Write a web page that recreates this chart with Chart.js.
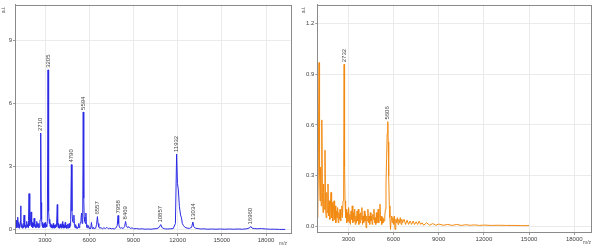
<!DOCTYPE html>
<html>
<head>
<meta charset="utf-8">
<script src="https://cdn.jsdelivr.net/npm/chart.js@4.4.1/dist/chart.umd.min.js"></script>
<style>
    html, body { margin: 0; padding: 0; background: #fff; }
    .panel { position: absolute; top: 0; width: 300px; height: 247px; }
    #panel-left { left: 0; }
    #panel-right { left: 300px; }
</style>
</head>
<body>
<div class="panel" id="panel-left"><canvas id="chart-left"></canvas></div>
<div class="panel" id="panel-right"><canvas id="chart-right"></canvas></div>
<script>
// --- DATA ---

// Spectrum 1 (blue): m/z and intensity (a.i.)
const blueMz = [
    1000, 1030, 1060, 1090, 1120, 1150, 1180, 1210, 1240, 1270,
    1300, 1330, 1350, 1370, 1400, 1430, 1460, 1490, 1520, 1550,
    1580, 1610, 1640, 1670, 1700, 1730, 1760, 1790, 1820, 1850,
    1880, 1917, 1950, 1980, 2010, 2050, 2080, 2110, 2140, 2170,
    2200, 2230, 2260, 2290, 2320, 2350, 2380, 2410, 2440, 2470,
    2500, 2530, 2560, 2590, 2620, 2650, 2680, 2710, 2740, 2770,
    2800, 2830, 2860, 2890, 2920, 2950, 2980, 3010, 3040, 3070,
    3100, 3130, 3160, 3205, 3230, 3260, 3290, 3320, 3350, 3380,
    3410, 3440, 3470, 3500, 3530, 3560, 3590, 3620, 3650, 3680,
    3710, 3740, 3780, 3833, 3860, 3890, 3920, 3950, 3980, 4010,
    4040, 4070, 4100, 4130, 4160, 4190, 4220, 4250, 4280, 4310,
    4340, 4370, 4400, 4430, 4460, 4490, 4520, 4550, 4580, 4610,
    4640, 4670, 4700, 4740, 4790, 4830, 4870, 4910, 4960, 5000,
    5040, 5080, 5120, 5160, 5200, 5240, 5280, 5320, 5360, 5400,
    5440, 5480, 5520, 5560, 5594, 5630, 5660, 5700, 5740, 5775,
    5810, 5850, 5900, 5950, 6000, 6050, 6100, 6150, 6200, 6250,
    6300, 6350, 6400, 6450, 6500, 6557, 6600, 6650, 6700, 6800,
    6900, 7000, 7100, 7200, 7300, 7400, 7500, 7600, 7700, 7800,
    7900, 7958, 8000, 8050, 8100, 8200, 8300, 8400, 8469, 8520,
    8600, 8700, 8800, 8900, 9000, 9200, 9400, 9600, 9800, 10000,
    10200, 10400, 10600, 10750, 10857, 10950, 11100, 11300, 11500, 11700,
    11850, 11932, 11990, 12050, 12120, 12200, 12260, 12320, 12400, 12500,
    12650, 12800, 12950, 13034, 13100, 13200, 13400, 13600, 13800, 14000,
    14300, 14600, 14900, 15200, 15500, 15800, 16100, 16400, 16700, 16900,
    16960, 17050, 17200, 17400, 17700, 18000, 18300, 18600, 18900, 19300
];
const blueInt = [
    0.35, 0.15, 0.45, 0.1, 0.3, 0.6, 0.12, 0.35, 0.08, 0.25,
    0.15, 0.4, 1.14, 0.3, 0.12, 0.3, 0.08, 0.2, 0.1, 0.35,
    0.7, 0.15, 0.3, 0.08, 0.22, 0.12, 0.4, 0.15, 0.25, 0.1,
    0.45, 1.72, 0.4, 0.2, 0.35, 0.85, 0.3, 0.15, 0.35, 0.1,
    0.3, 0.18, 0.55, 0.15, 0.3, 0.1, 0.25, 0.12, 0.4, 0.15,
    0.3, 0.1, 0.22, 0.3, 0.12, 0.35, 0.5, 4.6, 1.3, 0.5,
    0.2, 0.35, 0.12, 0.28, 0.1, 0.3, 0.15, 0.35, 0.12, 0.25,
    0.2, 0.15, 0.4, 7.6, 1.0, 0.9, 0.3, 0.5, 0.15, 0.3,
    0.1, 0.25, 0.12, 0.2, 0.08, 0.3, 0.12, 0.22, 0.08, 0.2,
    0.1, 0.25, 0.15, 1.2, 0.25, 0.1, 0.3, 0.08, 0.2, 0.1,
    0.28, 0.12, 0.2, 0.08, 0.3, 0.4, 0.12, 0.25, 0.08, 0.2,
    0.1, 0.35, 0.12, 0.22, 0.06, 0.18, 0.1, 0.28, 0.08, 0.2,
    0.3, 0.1, 0.2, 0.5, 3.1, 0.9, 0.4, 0.35, 0.7, 0.2,
    0.1, 0.25, 0.08, 0.15, 0.06, 0.12, 0.3, 0.1, 0.2, 0.35,
    0.5, 0.8, 0.3, 0.6, 5.6, 1.5, 0.6, 0.4, 0.3, 0.8,
    0.25, 0.12, 0.08, 0.2, 0.06, 0.1, 0.05, 0.35, 0.1, 0.06,
    0.12, 0.05, 0.08, 0.12, 0.25, 0.63, 0.3, 0.15, 0.08, 0.1,
    0.05, 0.1, 0.06, 0.12, 0.05, 0.08, 0.05, 0.06, 0.04, 0.08,
    0.2, 0.68, 0.3, 0.12, 0.08, 0.1, 0.06, 0.15, 0.4, 0.2,
    0.1, 0.15, 0.06, 0.1, 0.05, 0.06, 0.04, 0.05, 0.03, 0.04,
    0.03, 0.05, 0.06, 0.12, 0.25, 0.1, 0.05, 0.04, 0.05, 0.06,
    0.3, 3.6, 2.2, 1.9, 1.1, 0.7, 0.57, 0.3, 0.2, 0.12,
    0.08, 0.07, 0.12, 0.37, 0.15, 0.08, 0.06, 0.04, 0.05, 0.03,
    0.04, 0.03, 0.04, 0.03, 0.04, 0.03, 0.04, 0.03, 0.05, 0.1,
    0.16, 0.08, 0.06, 0.05, 0.06, 0.04, 0.03, 0.03, 0.02, 0.02
];
const bluePeakLabels = ['2710', '3205', '4790', '5594', '6557', '7958', '8469', '10857', '11932', '13034', '16960'];

// Spectrum 2 (orange)
const orangeMz = [
    930, 960, 1000, 1055, 1090, 1120, 1160, 1200, 1240, 1280,
    1320, 1360, 1400, 1450, 1490, 1530, 1570, 1610, 1650, 1690,
    1730, 1770, 1810, 1850, 1890, 1930, 1970, 2010, 2050, 2090,
    2130, 2170, 2210, 2250, 2290, 2330, 2370, 2410, 2450, 2490,
    2530, 2570, 2610, 2650, 2690, 2720, 2750, 2780, 2820, 2860,
    2900, 2940, 2980, 3020, 3060, 3100, 3140, 3180, 3220, 3260,
    3300, 3340, 3380, 3420, 3460, 3500, 3540, 3580, 3620, 3660,
    3700, 3740, 3780, 3820, 3860, 3900, 3940, 3980, 4020, 4060,
    4100, 4140, 4180, 4220, 4260, 4300, 4340, 4380, 4420, 4460,
    4500, 4540, 4580, 4620, 4660, 4700, 4740, 4780, 4820, 4860,
    4900, 4940, 4980, 5020, 5060, 5100, 5140, 5180, 5220, 5260,
    5300, 5340, 5380, 5420, 5460, 5500, 5540, 5580, 5620, 5650,
    5680, 5720, 5760, 5800, 5840, 5880, 5920, 5960, 6000, 6050,
    6100, 6150, 6200, 6250, 6300, 6350, 6400, 6450, 6500, 6550,
    6600, 6700, 6800, 6900, 7000, 7100, 7200, 7300, 7400, 7500,
    7600, 7700, 7800, 7900, 8000, 8200, 8400, 8600, 8800, 9000,
    9300, 9600, 9900, 10200, 10500, 10800, 11100, 11400, 11700, 12000,
    12500, 13000, 13500, 14000, 14500, 15000
];
const orangeInt = [
    0.45, 0.05, 0.3, 0.97, 0.3, 0.15, 0.35, 0.12, 0.63, 0.2,
    0.08, 0.25, 0.1, 0.45, 0.1, 0.05, 0.2, 0.08, 0.25, 0.06,
    0.15, 0.04, 0.12, 0.2, 0.05, 0.14, 0.03, 0.1, 0.15, 0.04,
    0.12, 0.02, 0.09, 0.05, 0.11, 0.02, 0.08, 0.04, 0.1, 0.03,
    0.07, 0.12, 0.05, 0.15, 0.25, 0.96, 0.35, 0.15, 0.05, 0.1,
    0.02, 0.08, 0.03, 0.11, 0.02, 0.07, 0.01, 0.09, 0.04, 0.12,
    0.02, 0.08, 0.03, 0.1, 0.01, 0.06, 0.02, 0.09, 0.03, 0.1,
    0.01, 0.07, 0.02, 0.08, 0.04, 0.11, 0.01, 0.06, 0.02, 0.09,
    0.03, 0.07, -0.01, 0.06, 0.03, 0.1, 0.02, 0.06, 0.01, 0.08,
    0.03, 0.06, 0.01, 0.07, 0.04, 0.1, 0.02, 0.05, 0.01, 0.08,
    0.02, 0.06, 0.1, 0.02, 0.07, 0.13, 0.03, 0.06, 0.01, 0.05,
    0.02, 0.04, 0.03, 0.06, 0.1, 0.25, 0.4, 0.55, 0.62, 0.5,
    0.3, 0.12, 0.05, -0.02, 0.04, 0.06, 0.02, 0.05, 0.01, 0.06,
    -0.02, 0.04, 0.02, 0.05, 0.01, 0.04, 0.02, 0.05, 0.01, 0.04,
    0.02, 0.04, 0.01, 0.035, 0.01, 0.03, 0.01, 0.03, 0.01, 0.025,
    0.01, 0.03, 0.01, 0.02, 0.005, 0.02, 0.005, 0.015, 0.005, 0.012,
    0.005, 0.01, 0.004, 0.01, 0.004, 0.008, 0.005, 0.007, 0.004, 0.006,
    0.004, 0.005, 0.004, 0.004, 0.003, 0.003
];
const orangePeakLabels = ['2732', '5606'];

// Axis ticks
const mzTicks = [3000, 6000, 9000, 12000, 15000, 18000];
const blueYTicks = [0, 3, 6, 9];
const orangeYTicks = [0, 0.3, 0.6, 0.9, 1.2];

// --- HELPERS ---

const FONT = "'Liberation Sans', Arial, sans-serif";
const toPoints = (xs, ys) => xs.map((x, i) => ({ x, y: ys[i] }));

// Frame, axis titles and rotated peak labels
const spectrumDecor = {
    id: 'decor',
    afterDatasetsDraw(chart, args, opts) {
        const { ctx, chartArea: a, scales } = chart;
        const xs = scales.x, ys = scales.y;
        ctx.save();
        ctx.fillStyle = '#444';
        ctx.font = `6px ${FONT}`;
        ctx.textAlign = 'left';
        ctx.textBaseline = 'middle';
        opts.peaks.forEach(label => {
            const target = Number(label);
            let best = -1;
            opts.mz.forEach((m, i) => {
                if (Math.abs(m - target) <= 60 && (best < 0 || opts.int[i] > opts.int[best])) best = i;
            });
            if (best < 0) return;
            const px = xs.getPixelForValue(opts.mz[best]);
            const py = ys.getPixelForValue(opts.int[best]);
            ctx.save();
            ctx.translate(px, py - 2);
            ctx.rotate(-Math.PI / 2);
            ctx.fillText(label, 0, 0);
            ctx.restore();
        });

        // frame
        ctx.strokeStyle = '#8a8a8a';
        ctx.lineWidth = 1;
        ctx.strokeRect(Math.round(a.left) + 0.5, Math.round(a.top) + 0.5,
            Math.round(a.right - a.left), Math.round(a.bottom - a.top));

        // a.i. and m/z
        ctx.fillStyle = '#555';
        ctx.font = `5px ${FONT}`;
        ctx.save();
        ctx.translate(opts.aiX, 10);
        ctx.rotate(-Math.PI / 2);
        ctx.textAlign = 'center';
        ctx.fillText('a.i.', 0, 0);
        ctx.restore();
        ctx.textAlign = 'center';
        ctx.fillText('m/z', opts.mzX, opts.mzY);
        ctx.restore();
    }
};

function buildChart(canvasId, cfg) {
    const ctx = document.getElementById(canvasId).getContext('2d');
    return new Chart(ctx, {
        type: 'line',
        data: {
            datasets: [{
                data: toPoints(cfg.mz, cfg.int),
                borderColor: cfg.color,
                borderWidth: 1,
                pointRadius: 0,
                tension: 0,
                fill: false,
            }]
        },
        options: {
            responsive: true,
            maintainAspectRatio: false,
            animation: false,
            events: [],
            layout: { padding: cfg.padding },
            plugins: {
                legend: { display: false },
                tooltip: { enabled: false },
                decor: { peaks: cfg.peaks, mz: cfg.mz, int: cfg.int, aiX: cfg.aiX, mzX: cfg.mzX, mzY: cfg.mzY },
            },
            scales: {
                x: {
                    type: 'linear',
                    min: cfg.xMin,
                    max: cfg.xMax,
                    afterBuildTicks: s => { s.ticks = mzTicks.map(v => ({ value: v })); },
                    afterFit: s => { s.height = 12; },
                    grid: { color: '#ebebeb', tickColor: '#999', tickLength: 3 },
                    border: { color: '#8a8a8a' },
                    ticks: { color: '#444', font: { family: FONT, size: 6 }, padding: 1, maxRotation: 0, callback: v => String(v) },
                },
                y: {
                    min: cfg.yMin,
                    max: cfg.yMax,
                    afterBuildTicks: s => { s.ticks = cfg.yTicks.map(v => ({ value: v })); },
                    afterFit: s => { s.width = cfg.yWidth; },
                    grid: { color: '#ebebeb', tickColor: '#999', tickLength: 2 },
                    border: { color: '#8a8a8a' },
                    ticks: { color: '#444', font: { family: FONT, size: 6 }, padding: 1, callback: cfg.yFormat },
                }
            }
        },
        plugins: [spectrumDecor]
    });
}

// --- MAIN ---

buildChart('chart-left', {
    mz: blueMz, int: blueInt, peaks: bluePeakLabels, color: '#2b2be6',
    xMin: 964, xMax: 19660, yMin: -0.15, yMax: 10.7, yTicks: blueYTicks,
    yWidth: 15, padding: { left: 0, top: 4, right: 9.5, bottom: 2 },
    yFormat: v => String(v), aiX: 4, mzX: 283, mzY: 244,
});

buildChart('chart-right', {
    mz: orangeMz, int: orangeInt, peaks: orangePeakLabels, color: '#f28a12',
    xMin: 940, xMax: 19110, yMin: -0.035, yMax: 1.314, yTicks: orangeYTicks,
    yWidth: 17.3, padding: { left: 0, top: 4, right: 9, bottom: 3 },
    yFormat: v => v.toFixed(1), aiX: 4, mzX: 287, mzY: 243,
});
</script>
</body>
</html>
